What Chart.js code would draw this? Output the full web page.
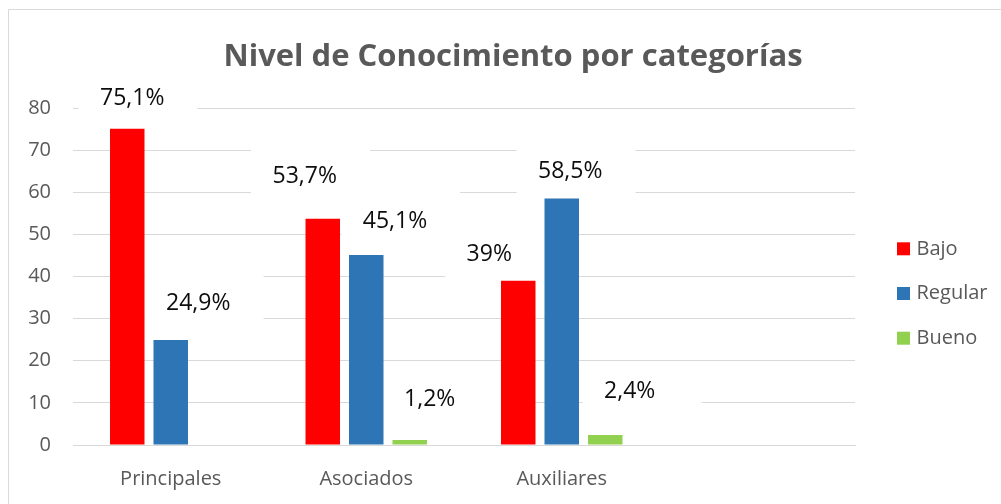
<!DOCTYPE html>
<html>
<head>
<meta charset="utf-8">
<script src="https://cdn.jsdelivr.net/npm/chart.js@4.4.1/dist/chart.umd.min.js"></script>
<style>
html,body{margin:0;padding:0;background:#fff;}
#wrap{position:relative;width:1001px;height:504px;}
canvas{display:block;}
</style>
</head>
<body>
<div id="wrap"><canvas id="c" width="1001" height="504"></canvas></div>
<script>
// ---------- data ----------
const chartTitle = 'Nivel de Conocimiento por categorías';
const categories = ['Principales', 'Asociados', 'Auxiliares', ''];
const seriesNames = ['Bajo', 'Regular', 'Bueno'];
const bajo = [75.1, 53.7, 39, null];
const regular = [24.9, 45.1, 58.5, null];
const bueno = [0, 1.2, 2.4, null];
const yMin = 0, yMax = 80, yStep = 10;

// ---------- styles ----------
const seriesColors = ['#FF0000', '#2E75B6', '#92D050'];
const FONT = "'Open Sans', 'Liberation Sans', sans-serif";
const GRAY = '#595959';
const GRID = '#D9D9D9';
// manual label placement: offset of label text centre from bar top-centre (px)
const labelOffsets = [
  [[5, -31.6], [-18, -44], [-29, -28]],
  [[27.5, -38], [28.7, -35], [8.5, -28.6]],
  [null, [20, -42], [24.5, -45]]
];

function fmt(v) { return String(v).replace('.', ',') + '%'; }

const decor = {
  id: 'decor',
  beforeDraw(chart) {
    const ctx = chart.ctx;
    ctx.save();
    ctx.fillStyle = '#fff';
    ctx.fillRect(0, 0, chart.width, chart.height);
    ctx.strokeStyle = GRID;
    ctx.lineWidth = 1;
    ctx.beginPath();
    ctx.moveTo(8.5, chart.height);
    ctx.lineTo(8.5, 9.5);
    ctx.lineTo(chart.width, 9.5);
    ctx.stroke();
    ctx.restore();
  },
  _labels(chart, cb) {
    const ctx = chart.ctx;
    chart.data.datasets.forEach((ds, i) => {
      const meta = chart.getDatasetMeta(i);
      ds.data.forEach((v, j) => {
        const off = labelOffsets[i] && labelOffsets[i][j];
        if (v === null || !off) return;
        const el = meta.data[j];
        cb(ctx, fmt(v), el.x + off[0], el.y + off[1]);
      });
    });
  },
  beforeDatasetsDraw(chart) {
    const ctx = chart.ctx;
    ctx.save();
    ctx.font = '23px ' + FONT;
    ctx.fillStyle = '#fff';
    this._labels(chart, (c, t, cx, cy) => {
      const w = c.measureText(t).width;
      const left = cx - w / 2 - 21.5;
      c.fillRect(left, cy - 28, 119, 53);
    });
    ctx.restore();
  },
  afterDatasetsDraw(chart) {
    const ctx = chart.ctx;
    ctx.save();
    ctx.font = '23px ' + FONT;
    ctx.fillStyle = '#0D0D0D';
    ctx.textAlign = 'center';
    ctx.textBaseline = 'alphabetic';
    this._labels(chart, (c, t, cx, cy) => {
      c.fillText(t, cx, cy + 23 * 0.36);
    });
    ctx.restore();
  },
  afterDraw(chart) {
    const ctx = chart.ctx;
    ctx.save();
    // title
    ctx.font = 'bold 31px ' + FONT;
    ctx.fillStyle = GRAY;
    ctx.textAlign = 'center';
    ctx.textBaseline = 'alphabetic';
    ctx.fillText(chartTitle, 513, 65.5);
    // legend
    ctx.font = '20px ' + FONT;
    ctx.textAlign = 'left';
    chart.data.datasets.forEach((ds, i) => {
      ctx.fillStyle = ds.backgroundColor;
      ctx.fillRect(897, 242.3 + 44.7 * i, 13, 13);
      ctx.fillStyle = GRAY;
      ctx.fillText(ds.label, 916.5, 254.5 + 44.9 * i);
    });
    ctx.restore();
  }
};

const datasets = [bajo, regular, bueno].map((d, i) => ({
  label: seriesNames[i],
  data: d,
  backgroundColor: seriesColors[i],
  borderWidth: 0,
  categoryPercentage: 0.6675,
  barPercentage: 0.793
}));

new Chart(document.getElementById('c'), {
  type: 'bar',
  data: { labels: categories, datasets },
  options: {
    responsive: false,
    animation: false,
    layout: { padding: { top: 108, right: 146, left: 0, bottom: 0 } },
    plugins: { legend: { display: false }, title: { display: false }, tooltip: { enabled: false } },
    scales: {
      x: {
        grid: { display: false, drawTicks: false },
        border: { display: true, color: GRID, width: 1 },
        ticks: { color: GRAY, font: { family: FONT, size: 20 }, padding: 22, maxRotation: 0, autoSkip: false },
        afterFit(s) { s.height = 59; }
      },
      y: {
        min: yMin, max: yMax,
        grid: { color: GRID, lineWidth: 1, drawTicks: false },
        border: { display: false },
        ticks: { stepSize: yStep, color: GRAY, font: { family: FONT, size: 20 }, padding: 22 },
        afterFit(s) { s.width = 73; }
      }
    }
  },
  plugins: [decor]
});
</script>
</body>
</html>
